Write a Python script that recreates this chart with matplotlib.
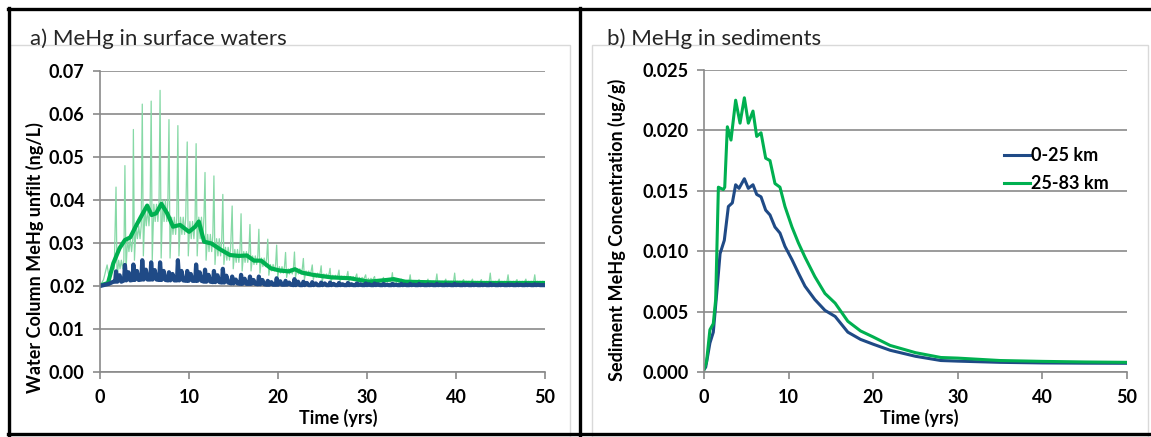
import matplotlib
matplotlib.use("Agg")
import matplotlib.pyplot as plt
from matplotlib.lines import Line2D
from matplotlib.patches import Rectangle

plt.rcParams['font.family'] = ['Lato', 'DejaVu Sans']

W, H = 1151, 437

BLUE = '#1F4A86'
GREEN = '#00B050'
THIN_GREEN = '#86D9A6'
GRID = '#8A8A8A'
FS = 13

# --- a) water column MeHg (ng/L) ---
# yearly pulse times, shared by both reaches
pulse_t = [1.8, 2.8, 3.75, 4.75, 5.75, 6.75, 7.75, 8.75, 9.8, 10.8,
           11.8, 12.8, 13.8, 14.85, 15.85, 16.85, 17.85, 18.85, 19.85, 20.85,
           21.85, 22.85, 23.85, 24.85, 25.85, 26.85, 27.85, 28.85, 29.85, 30.85,
           31.85, 32.85, 33.85, 34.85, 35.85, 36.85, 37.85, 38.85, 39.85, 40.85,
           41.85, 42.85, 43.85, 44.85, 45.85, 46.85, 47.85, 48.85]

# 25-83 km, daily values (thin line)
raw_lead_t = [0.0, 0.4, 0.8, 1.0, 1.3, 1.6]
raw_lead_v = [0.0200, 0.0215, 0.0249, 0.0222, 0.0235, 0.0240]
raw_peak = [0.0430, 0.0480, 0.0564, 0.0623, 0.0630, 0.0655, 0.0587, 0.0573, 0.0535, 0.0531,
            0.0464, 0.0456, 0.0413, 0.0386, 0.0368, 0.0343, 0.0332, 0.0309, 0.0295, 0.0278,
            0.0279, 0.0264, 0.0249, 0.0247, 0.0241, 0.0237, 0.0234, 0.0228, 0.0226, 0.0222,
            0.0220, 0.0231, 0.0216, 0.0226, 0.0215, 0.0216, 0.0228, 0.0216, 0.0230, 0.0215,
            0.0216, 0.0215, 0.0230, 0.0216, 0.0226, 0.0215, 0.0216, 0.0226]
raw_trough = [0.0215, 0.0237, 0.0260, 0.0270, 0.0260, 0.0265, 0.0265, 0.0270, 0.0270, 0.0270,
              0.0260, 0.0250, 0.0250, 0.0240, 0.0235, 0.0235, 0.0230, 0.0225, 0.0220, 0.0220,
              0.0220, 0.0215, 0.0215, 0.0210, 0.0210, 0.0210, 0.0210, 0.0208, 0.0207, 0.0206,
              0.0206, 0.0205, 0.0205, 0.0205, 0.0205, 0.0205, 0.0205, 0.0205, 0.0205, 0.0205,
              0.0205, 0.0205, 0.0205, 0.0205, 0.0205, 0.0205, 0.0205, 0.0205]
raw_hi = [0.0260, 0.0310, 0.0340, 0.0380, 0.0390, 0.0400, 0.0360, 0.0360, 0.0350, 0.0360,
          0.0320, 0.0310, 0.0290, 0.0285, 0.0280, 0.0270, 0.0265, 0.0250, 0.0245, 0.0240,
          0.0240, 0.0235, 0.0230, 0.0228, 0.0225, 0.0223, 0.0222, 0.0220, 0.0218, 0.0214,
          0.0213, 0.0212, 0.0211, 0.0211, 0.0211, 0.0211, 0.0211, 0.0211, 0.0211, 0.0211,
          0.0211, 0.0211, 0.0211, 0.0211, 0.0211, 0.0211, 0.0211, 0.0211]
raw_lo = [0.0240, 0.0280, 0.0310, 0.0340, 0.0350, 0.0350, 0.0320, 0.0320, 0.0310, 0.0310,
          0.0280, 0.0270, 0.0260, 0.0255, 0.0255, 0.0250, 0.0245, 0.0235, 0.0230, 0.0228,
          0.0228, 0.0225, 0.0220, 0.0220, 0.0218, 0.0216, 0.0215, 0.0214, 0.0212, 0.0210,
          0.0209, 0.0208, 0.0208, 0.0208, 0.0208, 0.0208, 0.0208, 0.0208, 0.0208, 0.0208,
          0.0208, 0.0208, 0.0208, 0.0208, 0.0208, 0.0208, 0.0208, 0.0208]
raw_end = 0.0209

# 25-83 km, running mean (thick green)
avg_t = [0.0, 0.9, 1.5, 2.2, 2.8, 3.4, 4.0, 4.6, 5.3, 5.8, 6.3, 6.9, 7.55, 8.2, 9.0,
         10.0, 10.7, 11.1, 11.7, 12.5, 13.6, 14.6, 15.6, 16.5, 17.3, 18.1, 19.2, 20.2,
         21.2, 21.9, 22.7, 23.9, 26.0, 28.1, 30.2, 32.2, 33.0, 34.3, 38.5, 42.6, 50.0]
avg_v = [0.0201, 0.0207, 0.0253, 0.0288, 0.0307, 0.0313, 0.0338, 0.0361, 0.0387, 0.0365,
         0.0369, 0.0391, 0.0369, 0.0338, 0.0342, 0.0326, 0.0338, 0.0350, 0.0303, 0.0299,
         0.0284, 0.0272, 0.0270, 0.0271, 0.0259, 0.0259, 0.0241, 0.0236, 0.0234, 0.0239,
         0.0231, 0.0226, 0.0220, 0.0218, 0.0210, 0.0214, 0.0216, 0.0210, 0.0208, 0.0207,
         0.0207]

# 0-25 km (thick blue)
near_lead_t = [0.0, 1.0, 1.5]
near_lead_v = [0.0200, 0.0205, 0.0210]
near_peak = [0.0234, 0.0249, 0.0250, 0.0260, 0.0255, 0.0255, 0.0232, 0.0260, 0.0235, 0.0250,
             0.0238, 0.0235, 0.0240, 0.0222, 0.0226, 0.0222, 0.0222, 0.0212, 0.0218, 0.0212,
             0.0216, 0.0210, 0.0209, 0.0208, 0.0208, 0.0207, 0.0207, 0.0206, 0.0206, 0.0206,
             0.0205, 0.0205, 0.0205, 0.0205, 0.0205, 0.0204, 0.0205, 0.0204, 0.0205, 0.0204,
             0.0204, 0.0204, 0.0205, 0.0204, 0.0204, 0.0204, 0.0204, 0.0204]
near_bump = [0.0225, 0.0232, 0.0235, 0.0238, 0.0237, 0.0235, 0.0228, 0.0235, 0.0228, 0.0232,
             0.0226, 0.0225, 0.0224, 0.0215, 0.0217, 0.0214, 0.0214, 0.0209, 0.0211, 0.0208,
             0.0210, 0.0207, 0.0206, 0.0206, 0.0205, 0.0204, 0.0204, 0.0204, 0.0204, 0.0204,
             0.0203, 0.0203, 0.0203, 0.0203, 0.0203, 0.0203, 0.0203, 0.0203, 0.0203, 0.0203,
             0.0203, 0.0203, 0.0203, 0.0203, 0.0203, 0.0203, 0.0203, 0.0203]
near_base = [0.0210, 0.0213, 0.0214, 0.0215, 0.0215, 0.0214, 0.0213, 0.0213, 0.0212, 0.0212,
             0.0210, 0.0209, 0.0208, 0.0206, 0.0205, 0.0205, 0.0204, 0.0203, 0.0203, 0.0203,
             0.0202, 0.0202, 0.0202, 0.0202, 0.0202, 0.0202, 0.0202, 0.0202, 0.0202, 0.0202,
             0.0202, 0.0202, 0.0202, 0.0202, 0.0202, 0.0202, 0.0202, 0.0202, 0.0202, 0.0202,
             0.0202, 0.0202, 0.0202, 0.0202, 0.0202, 0.0202, 0.0202, 0.0202]
near_end = 0.0202

# --- b) sediment MeHg (ug/g) ---
sed_near_t = [0, 0.2, 0.7, 1.1, 1.5, 1.9, 2.4, 2.88, 3.35, 3.74, 4.14, 4.77, 5.24, 5.79,
              6.23, 6.74, 7.29, 7.8, 8.39, 8.98, 9.57, 10.4, 11.15, 11.94, 13.1, 14.3,
              15.5, 17.0, 18.5, 20.0, 22.0, 25.0, 28.0, 30.0, 35.0, 40.0, 45.0, 50.0]
sed_near = [0.0002, 0.0004, 0.0024, 0.0033, 0.0065, 0.0098, 0.0109, 0.0137, 0.0140, 0.0155,
            0.0152, 0.0160, 0.0152, 0.0155, 0.0147, 0.0145, 0.0134, 0.0130, 0.0120, 0.0115,
            0.0104, 0.0093, 0.0082, 0.0071, 0.0060, 0.0051, 0.0046, 0.0033, 0.0027, 0.0023,
            0.0018, 0.0013, 0.00095, 0.0009, 0.0008, 0.00075, 0.00073, 0.00072]
sed_far_t = [0, 0.3, 0.7, 1.1, 1.38, 1.7, 2.28, 2.45, 2.76, 3.19, 3.74, 4.26, 4.77, 5.24,
             5.79, 6.23, 6.74, 7.29, 7.8, 8.39, 8.98, 9.57, 10.4, 11.15, 11.94, 13.1, 14.3,
             15.5, 17.0, 18.5, 20.0, 22.0, 25.0, 28.0, 30.0, 35.0, 40.0, 45.0, 50.0]
sed_far = [0.0002, 0.00085, 0.0035, 0.0040, 0.0060, 0.0153, 0.0151, 0.0153, 0.0203, 0.0192,
           0.0225, 0.0206, 0.0227, 0.0206, 0.0216, 0.0195, 0.0198, 0.0177, 0.0175, 0.0156,
           0.0153, 0.0137, 0.0120, 0.0107, 0.0095, 0.0079, 0.0065, 0.0057, 0.0042, 0.0034,
           0.0029, 0.0022, 0.0016, 0.0012, 0.00115, 0.00095, 0.00088, 0.00083, 0.0008]

legend_labels = ['0-25 km', '25-83 km']


def pulse_series(lead_t, lead_v, times, peak, trough, hi, lo, end_v):
    # sharp yearly pulse, quick drop, then small wiggles until the next pulse
    t, v = list(lead_t), list(lead_v)
    for k, tk in enumerate(times):
        t += [tk, tk + 0.12, tk + 0.3, tk + 0.45, tk + 0.6, tk + 0.75, tk + 0.88]
        v += [peak[k], trough[k], hi[k], lo[k], hi[k], lo[k], hi[k]]
    t.append(50.0)
    v.append(end_v)
    return t, v


def blue_series(lead_t, lead_v, times, peak, bump, base, end_v):
    t, v = list(lead_t), list(lead_v)
    for k, tk in enumerate(times):
        t += [tk - 0.1, tk, tk + 0.15, tk + 0.4, tk + 0.6]
        v += [base[k], peak[k], base[k], bump[k], base[k]]
    t.append(50.0)
    v.append(end_v)
    return t, v


def style_axes(ax, ymax, ystep, fmt):
    for s in ['top', 'right']:
        ax.spines[s].set_visible(False)
    for s in ['left', 'bottom']:
        ax.spines[s].set_color(GRID)
        ax.spines[s].set_linewidth(1.2)
    ax.set_xlim(0, 50)
    ax.set_ylim(0, ymax)
    ax.set_xticks(range(0, 51, 10))
    n = int(round(ymax / ystep))
    yt = [i * ystep for i in range(n + 1)]
    ax.set_yticks(yt)
    ax.set_yticklabels([fmt.format(y) for y in yt])
    ax.grid(axis='y', color=GRID, linewidth=1.2)
    ax.set_axisbelow(True)
    ax.tick_params(direction='out', length=5, width=1.2, color=GRID,
                   labelsize=FS, labelcolor='black')
    ax.tick_params(axis='x', pad=7)
    ax.tick_params(axis='y', pad=6)
    for lab in ax.get_xticklabels() + ax.get_yticklabels():
        lab.set_fontweight('bold')


fig = plt.figure(figsize=(W / 100, H / 100), dpi=100)

# chart area frames and outer black borders
fig.add_artist(Rectangle((10 / W, 0), 560 / W, 1 - 45 / H, transform=fig.transFigure,
                         fill=False, edgecolor='#D9D9D9', linewidth=1))
fig.add_artist(Rectangle((592 / W, 0), 556 / W, 1 - 45 / H, transform=fig.transFigure,
                         fill=False, edgecolor='#D9D9D9', linewidth=1))
for xs, ys in [([8, W], [8.5, 8.5]), ([9, 9], [8, 435]), ([580, 580], [8, 435]),
               ([8, W], [434, 434])]:
    fig.add_artist(Line2D([x / W for x in xs], [1 - y / H for y in ys],
                          transform=fig.transFigure, color='black', linewidth=2.4))

ax1 = fig.add_axes([100 / W, 1 - 372 / H, 445 / W, 301 / H])
ax2 = fig.add_axes([704 / W, 1 - 372 / H, 423 / W, 302 / H])

t_raw, v_raw = pulse_series(raw_lead_t, raw_lead_v, pulse_t, raw_peak, raw_trough,
                            raw_hi, raw_lo, raw_end)
t_near, v_near = blue_series(near_lead_t, near_lead_v, pulse_t, near_peak, near_bump,
                             near_base, near_end)
ax1.plot(t_raw, v_raw, color=THIN_GREEN, linewidth=0.9)
ax1.plot(avg_t, avg_v, color=GREEN, linewidth=3, solid_joinstyle='round')
ax1.plot(t_near, v_near, color=BLUE, linewidth=3, solid_joinstyle='round')
style_axes(ax1, 0.07, 0.01, '{:.2f}')

ax2.plot(sed_near_t, sed_near, color=BLUE, linewidth=2.2, label=legend_labels[0])
ax2.plot(sed_far_t, sed_far, color=GREEN, linewidth=2.2, label=legend_labels[1])
style_axes(ax2, 0.025, 0.005, '{:.3f}')

ax2.legend(loc='upper left', bbox_to_anchor=(0.688, 0.774), frameon=False,
           borderpad=0, handlelength=1.45, handletextpad=0.05, labelspacing=0.6,
           prop={'weight': 'bold', 'size': FS})

ax1.set_xlabel('Time (yrs)', fontsize=FS, fontweight='bold')
ax2.set_xlabel('Time (yrs)', fontsize=FS, fontweight='bold')
ax1.xaxis.set_label_coords(0.535, -0.122)
ax2.xaxis.set_label_coords(0.508, -0.122)

ax1.set_ylabel('Water Column MeHg unfilt (ng/L)', fontsize=FS, fontweight='bold')
ax2.set_ylabel('Sediment MeHg Concentration (ug/g)', fontsize=FS, fontweight='bold')
for ax, (lx, ly) in [(ax1, (-0.146, 0.379)), (ax2, (-0.206, 0.47))]:
    ax.yaxis.set_label_coords(lx, ly)
    ax.yaxis.label.set_verticalalignment('center')

fig.text(30 / W, 1 - 45 / H, 'a) MeHg in surface waters', fontsize=16,
         color='#262626', va='baseline')
fig.text(607 / W, 1 - 45 / H, 'b) MeHg in sediments', fontsize=16,
         color='#262626', va='baseline')

fig.savefig('out.png', dpi=100)
